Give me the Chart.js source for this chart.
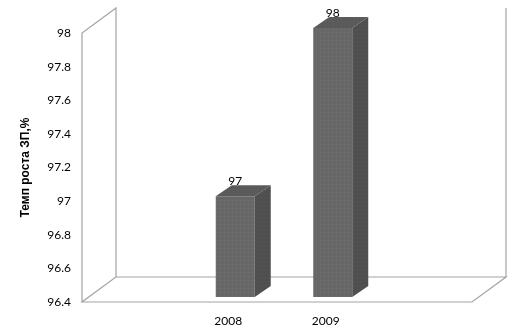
<!DOCTYPE html>
<html>
<head>
<meta charset="utf-8">
<script src="https://cdn.jsdelivr.net/npm/chart.js@4"></script>
<style>
  html, body { margin: 0; padding: 0; background: #fff; }
  #wrap { width: 518px; height: 336px; }
</style>
</head>
<body>
<div id="wrap"><canvas id="chart" width="518" height="336"></canvas></div>
<script>
// chart data
const categories = ["", "2008", "2009", ""];
const growthRate = [null, 97, 98, null];
const yMin = 96.4;
const yMax = 98;
const yStep = 0.2;
const axisTitle = "Темп роста ЗП,%";

// 3d look
const WALL_DEPTH = { x: 34, y: -25 };
const BAR_SHIFT = { x: 7, y: -5 };
const BAR_DEPTH = { x: 16, y: -11 };

// dotted fill like the excel texture
function dotPattern(base, dot) {
  const c = document.createElement("canvas");
  c.width = 4;
  c.height = 4;
  const g = c.getContext("2d");
  g.fillStyle = base;
  g.fillRect(0, 0, 4, 4);
  g.fillStyle = dot;
  g.fillRect(1, 1, 1, 1);
  return g.createPattern(c, "repeat");
}
const ctx = document.getElementById("chart").getContext("2d");
const frontFill = dotPattern("#676767", "#747474");
const topFill = dotPattern("#5a5a5a", "#626262");
const sideFill = dotPattern("#4f4f4f", "#595959");

const box3d = {
  id: "box3d",
  beforeDatasetsDraw(chart) {
    const { ctx, chartArea: a } = chart;
    const dx = WALL_DEPTH.x, dy = WALL_DEPTH.y;
    ctx.save();
    ctx.strokeStyle = "#a3a3a3";
    ctx.lineWidth = 1.2;
    ctx.beginPath();
    // left wall
    ctx.moveTo(a.left, a.bottom);
    ctx.lineTo(a.left, a.top);
    ctx.lineTo(a.left + dx, a.top + dy);
    ctx.lineTo(a.left + dx, a.bottom + dy);
    ctx.lineTo(a.left, a.bottom);
    // floor
    ctx.lineTo(a.right, a.bottom);
    ctx.lineTo(a.right + dx, a.bottom + dy);
    ctx.lineTo(a.left + dx, a.bottom + dy);
    // back wall right edge
    ctx.moveTo(a.right + dx, a.bottom + dy);
    ctx.lineTo(a.right + dx, a.top + dy);
    ctx.stroke();
    ctx.restore();
    // bars sit a bit deeper than the front plane
    ctx.save();
    ctx.translate(BAR_SHIFT.x, BAR_SHIFT.y);
  },
  afterDatasetsDraw(chart) {
    const { ctx, chartArea: a } = chart;
    ctx.restore();
    const dx = BAR_DEPTH.x, dy = BAR_DEPTH.y;
    chart.getDatasetMeta(0).data.forEach((bar, i) => {
      const v = chart.data.datasets[0].data[i];
      if (v === null) return;
      const p = bar.getProps(["x", "y", "base", "width"], true);
      const l = p.x - p.width / 2 + BAR_SHIFT.x;
      const r = p.x + p.width / 2 + BAR_SHIFT.x;
      const t = p.y + BAR_SHIFT.y;
      const b = Math.min(p.base, a.bottom) + BAR_SHIFT.y;
      ctx.save();
      // top face
      ctx.fillStyle = topFill;
      ctx.beginPath();
      ctx.moveTo(l, t);
      ctx.lineTo(l + dx, t + dy);
      ctx.lineTo(r + dx, t + dy);
      ctx.lineTo(r, t);
      ctx.closePath();
      ctx.fill();
      // side face
      ctx.fillStyle = sideFill;
      ctx.beginPath();
      ctx.moveTo(r, t);
      ctx.lineTo(r + dx, t + dy);
      ctx.lineTo(r + dx, b + dy);
      ctx.lineTo(r, b);
      ctx.closePath();
      ctx.fill();
      // value label
      ctx.fillStyle = "#000";
      ctx.font = "12px Lato";
      ctx.textAlign = "center";
      ctx.textBaseline = "middle";
      ctx.fillText(String(v), p.x + BAR_SHIFT.x, t - 15);
      ctx.restore();
    });
  }
};

new Chart(ctx, {
  type: "bar",
  data: {
    labels: categories,
    datasets: [
      {
        data: growthRate,
        backgroundColor: frontFill,
        borderWidth: 0,
        categoryPercentage: 1,
        barPercentage: 0.4,
      },
    ],
  },
  options: {
    responsive: false,
    animation: false,
    events: [],
    layout: { padding: { top: 33, right: 46, left: 0, bottom: 0 } },
    plugins: {
      legend: { display: false },
      tooltip: { enabled: false },
    },
    scales: {
      x: {
        grid: { display: false, drawTicks: false },
        border: { display: false },
        ticks: { color: "#000", font: { family: "Lato", size: 12 }, padding: 12, maxRotation: 0 },
        afterFit: (s) => { s.height = 34; },
      },
      y: {
        min: yMin,
        max: yMax,
        grid: { display: false, drawTicks: false },
        border: { display: false },
        ticks: {
          stepSize: yStep,
          color: "#000",
          font: { family: "Lato", size: 12 },
          padding: 11,
          callback: (v) => Math.round(v * 10) / 10,
        },
        title: {
          display: true,
          text: axisTitle,
          color: "#000",
          font: { family: "Liberation Sans", size: 12, weight: "bold" },
          padding: { top: 18, bottom: 0 },
        },
        afterFit: (s) => { s.width = 82; },
      },
    },
  },
  plugins: [box3d],
});
</script>
</body>
</html>
